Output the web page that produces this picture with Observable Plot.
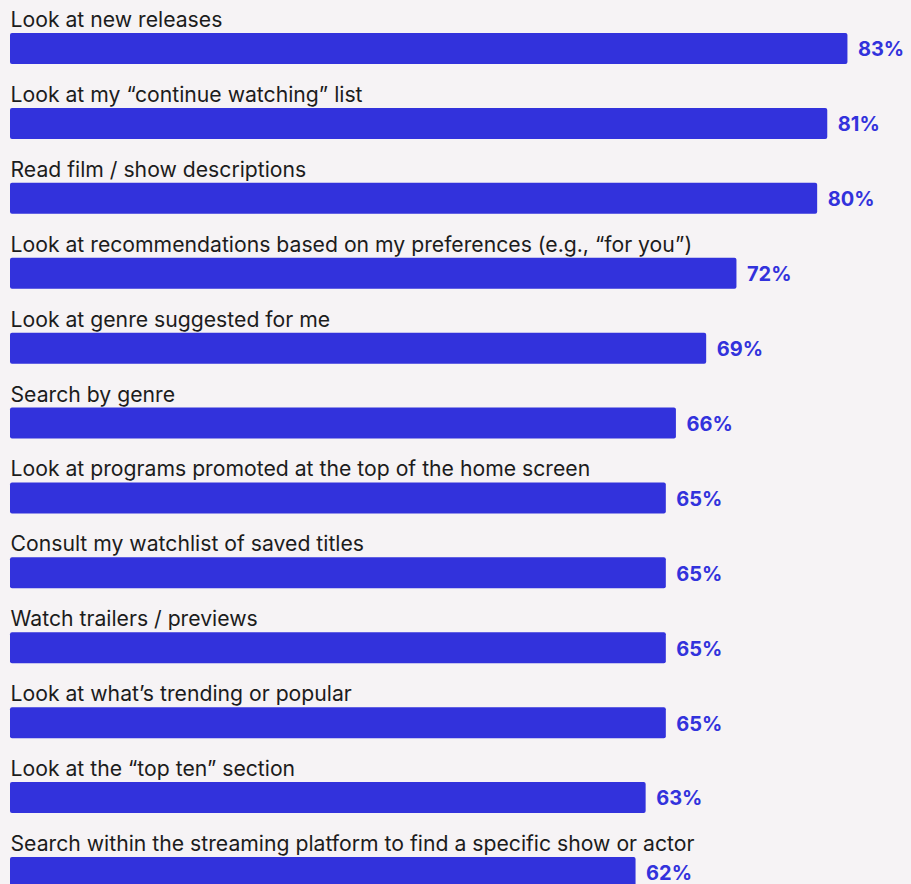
<!DOCTYPE html>
<html>
<head>
<meta charset="utf-8">
<script src="https://cdn.jsdelivr.net/npm/d3@7"></script>
<script src="https://cdn.jsdelivr.net/npm/@observablehq/plot@0.6"></script>
<style>
  html, body { margin: 0; padding: 0; background: #f6f3f5; overflow: hidden; }
  #chart svg { display: block; }
</style>
</head>
<body>
<div id="chart"></div>
<script>
const categories = [
  "Look at new releases",
  "Look at my “continue watching” list",
  "Read film / show descriptions",
  "Look at recommendations based on my preferences (e.g., “for you”)",
  "Look at genre suggested for me",
  "Search by genre",
  "Look at programs promoted at the top of the home screen",
  "Consult my watchlist of saved titles",
  "Watch trailers / previews",
  "Look at what’s trending or popular",
  "Look at the “top ten” section",
  "Search within the streaming platform to find a specific show or actor"
];
const values = [83, 81, 80, 72, 69, 66, 65, 65, 65, 65, 63, 62];

const data = categories.map((c, i) => ({category: c, value: values[i]}));

const barColor = "#3232dc";

const chart = Plot.plot({
  width: 911,
  height: 900,
  marginLeft: 10,
  marginRight: 0,
  marginTop: 0,
  marginBottom: 0,
  style: {background: "#f6f3f5", fontFamily: "Inter, sans-serif", overflow: "visible"},
  x: {domain: [0, 89.3], axis: null},
  y: {domain: categories, range: [33, 888], paddingInner: 0.586, paddingOuter: 0, round: false, axis: null},
  marks: [
    Plot.barX(data, {x: "value", y: "category", fill: barColor, rx: 2}),
    Plot.text(data, {
      x: 0, y: "category", text: "category",
      textAnchor: "start", lineAnchor: "bottom", dy: -22,
      fontSize: 21.2, fill: "#1c1c1c"
    }),
    Plot.text(data, {
      x: "value", y: "category", text: d => d.value + "%",
      textAnchor: "start", dx: 10, dy: 1,
      fontSize: 20, fontWeight: 700, fill: barColor
    })
  ]
});
document.getElementById("chart").appendChild(chart);
</script>
</body>
</html>
